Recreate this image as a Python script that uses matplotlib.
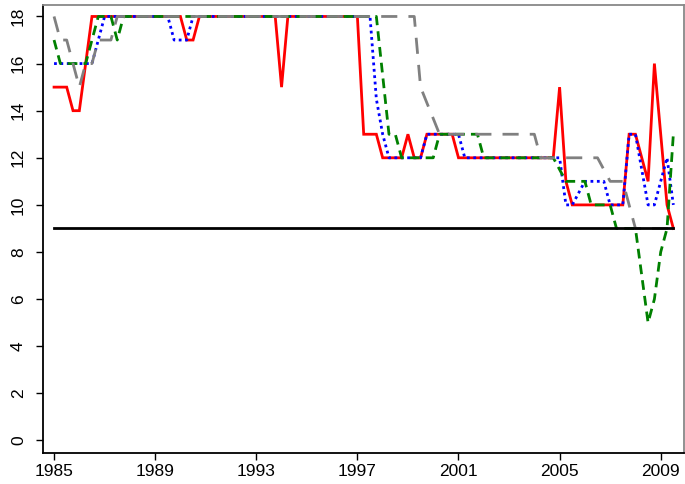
import numpy as np
import matplotlib
matplotlib.use("Agg")
import matplotlib.pyplot as plt

# quarterly observations, 1985Q1 .. 2009Q3
start_year = 1985.0
red = [15, 15, 15, 14, 14, 16] + [18]*15 + [17, 17] + [18]*13 + [15] + [18]*12 + \
      [13, 13, 13, 12, 12, 12, 12, 13, 12, 12, 13, 13, 13, 13, 13] + [12]*16 + \
      [15, 11] + [10]*9 + [13, 13, 12, 11, 16, 13, 10, 9]
blue = [16]*7 + [17] + [18]*11 + [17, 17, 17] + [18]*29 + [14.5, 13] + [12]*6 + [13]*6 + \
       [12]*16 + [10, 10, 10.5, 11, 11, 11, 11, 10, 10, 10, 13, 13, 11.5, 10, 10, 11, 12, 10]
green = [17, 16, 16, 16, 16, 16, 17, 18, 18, 18, 17] + [18]*41 + [15.5, 13, 13] + [12]*6 + \
        [13]*7 + [12]*12 + [11.5, 11, 11, 11, 11, 10, 10, 10, 10, 9, 9, 9, 9, 7, 5, 6, 8, 9, 13]
gray = [18, 17, 17, 16, 15, 16, 16, 17, 17, 17] + [18]*48 + [15, 14.33, 13.67] + [13]*16 + \
       [12]*10 + [11.5, 11, 11, 11, 10] + [9]*7
ref_level = 9

n = len(red)
x = start_year + np.arange(n) / 4.0

xticks = [1985, 1989, 1993, 1997, 2001, 2005, 2009]
yticks = list(range(0, 19, 2))

plt.rcParams['font.family'] = ['Liberation Sans', 'DejaVu Sans']
fig = plt.figure(figsize=(6.85, 4.84), dpi=100)
ax = fig.add_axes([0.0623, 0.0647, 0.9362, 0.9256])

ax.plot(x[:len(red)], red, color='#FF0000', lw=2.0, solid_joinstyle='miter')
ax.plot(x[:len(blue)], blue, color='#0000FF', lw=2.0, linestyle=(0, (1, 1.3)))
ax.plot(x[:len(green)], green, color='#008000', lw=2.0, linestyle=(0, (3.5, 2.2)))
ax.plot(x[:len(gray)], gray, color='#808080', lw=2.0, linestyle=(0, (5.8, 4.0)))
ax.plot([x[0], x[n-1]], [ref_level, ref_level], color='black', lw=2.0)

ax.set_xlim(1984.55, 2009.92)
ax.set_ylim(-0.52, 18.5)
ax.set_xticks(xticks)
ax.set_xticklabels([str(t) for t in xticks])
ax.set_yticks(yticks)
ax.set_yticklabels([str(t) for t in yticks], rotation=90, va='center')
ax.tick_params(axis='both', direction='out', length=5, width=1, labelsize=12.5, colors='black')
ax.tick_params(axis='y', pad=7)
ax.tick_params(axis='x', pad=3)
for s in ['left', 'bottom']:
    ax.spines[s].set_color('black')
    ax.spines[s].set_linewidth(1.3)
for s in ['top', 'right']:
    ax.spines[s].set_color('#888888')
    ax.spines[s].set_linewidth(1.3)

fig.savefig('out.png', dpi=100)
